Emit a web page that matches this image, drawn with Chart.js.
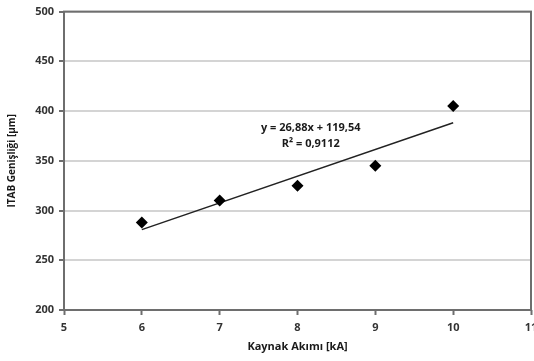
<!DOCTYPE html>
<html><head><meta charset="utf-8">
<script src="https://cdn.jsdelivr.net/npm/chart.js@4"></script>
<style>html,body{margin:0;padding:0;background:#fff;overflow:hidden}#wrap{width:534px;height:361px;position:relative;overflow:hidden}</style>
</head><body><div id="wrap"><canvas id="c" width="541" height="361"></canvas></div>
<script>
const currents = [6, 7, 8, 9, 10];
const widths = [288, 310, 325, 345, 405];
const trendX = [6, 10];
const trendY = [280.8, 388.3];
const xTicks = [5, 6, 7, 8, 9, 10, 11];
const yTicks = [200, 250, 300, 350, 400, 450, 500];
const eqLines = ['y = 26,88x + 119,54', 'R\u00B2 = 0,9112'];
const eqPos = {x: 8.17, y: 383.5};

const FONT = '"Open Sans", "Liberation Sans", sans-serif';

const framePlugin = {
  id: 'frame',
  afterDatasetsDraw(chart) {
    const {ctx, chartArea: a, scales} = chart;
    ctx.save();
    ctx.strokeStyle = '#6e6e6e';
    ctx.lineWidth = 2;
    ctx.strokeRect(a.left, a.top, a.right - a.left, a.bottom - a.top);
    ctx.fillStyle = '#1a1a1a';
    ctx.font = 'bold 11px ' + FONT;
    ctx.textAlign = 'center';
    ctx.textBaseline = 'middle';
    const px = scales.x.getPixelForValue(eqPos.x);
    const py = scales.y.getPixelForValue(eqPos.y);
    ctx.fillText(eqLines[0], px, py);
    ctx.fillText(eqLines[1], px, py + 16);
    ctx.restore();
  }
};

new Chart(document.getElementById('c'), {
  type: 'scatter',
  data: {
    datasets: [
      {
        data: currents.map((x, i) => ({x, y: widths[i]})),
        pointStyle: 'rectRot',
        pointRadius: 6,
        backgroundColor: '#000',
        borderColor: '#000',
        borderWidth: 0,
        order: 1
      },
      {
        type: 'line',
        data: trendX.map((x, i) => ({x, y: trendY[i]})),
        borderColor: '#222',
        borderWidth: 1.5,
        pointRadius: 0,
        fill: false,
        order: 2
      }
    ]
  },
  options: {
    responsive: false,
    animation: false,
    layout: {padding: {top: 11, right: 10, left: 0, bottom: 4}},
    plugins: {legend: {display: false}, tooltip: {enabled: false}},
    scales: {
      x: {
        type: 'linear', min: 5, max: 11,
        afterBuildTicks(s) { s.ticks = xTicks.map(v => ({value: v})); },
        afterFit(s) { s.height = 47; s.paddingRight = 0; s.paddingLeft = 0; },
        border: {display: false},
        grid: {drawOnChartArea: false, drawTicks: true, tickLength: 5, tickColor: '#6e6e6e', tickWidth: 2},
        ticks: {color: '#333', font: {family: FONT, size: 11, weight: 'bold'}, padding: 6, maxRotation: 0},
        title: {display: true, text: 'Kaynak Akımı [kA]', color: '#1a1a1a', font: {family: FONT, size: 11, weight: 'bold'}, padding: {top: 4}}
      },
      y: {
        min: 200, max: 500,
        afterBuildTicks(s) { s.ticks = yTicks.map(v => ({value: v})); },
        afterFit(s) { s.width = 64; },
        border: {display: false},
        grid: {color: '#d4d4d4', lineWidth: 2, drawTicks: true, tickLength: 5, tickColor: '#6e6e6e', tickWidth: 2},
        ticks: {color: '#333', font: {family: FONT, size: 11, weight: 'bold'}, padding: 5},
        title: {display: true, text: 'ITAB Genişliği [µm]', color: '#1a1a1a', font: {family: FONT, size: 10, weight: 'bold'}, padding: {top: 6, bottom: 0}}
      }
    }
  },
  plugins: [framePlugin]
});
</script></body></html>
